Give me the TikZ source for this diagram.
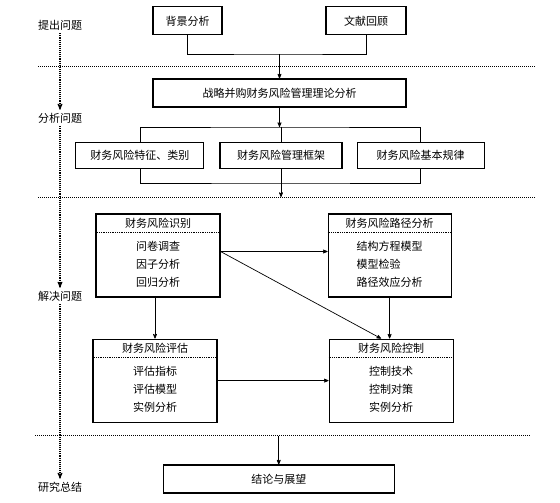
\documentclass[tikz,border=0pt]{standalone}
\usepackage{fontspec}
\newfontfamily\cjk{Noto Sans CJK SC}
\usetikzlibrary{shapes,arrows,positioning}

\begin{document}
\begin{tikzpicture}[>=stealth', x=1pt, y=1pt, font=\cjk\fontsize{11}{18}\selectfont] % Styles
\tikzstyle{box}=[draw, line width=1.1pt, align=center, minimum height=28pt, inner sep=2pt]
\tikzstyle{group}=[draw, line width=1.1pt, minimum width=124pt, minimum height=83pt]
\tikzstyle{head}=[inner sep=0pt]
\tikzstyle{items}=[align=left, inner sep=0pt]
\tikzstyle{stage}=[inner sep=3pt]
\tikzstyle{link}=[line width=0.7pt]
\tikzstyle{divider}=[densely dotted, line width=1pt]
\tikzstyle{flow}=[->, densely dotted, line width=1.1pt]
\useasboundingbox (0,0) rectangle (560,503); % Nodes
\node[box, minimum width=253pt] (theory) at (279.5,410) {战略并购财务风险管理理论分析};
\node[box, minimum width=69pt, above=43pt of theory.north west, anchor=south west] (bg) {背景分析};
\node[box, minimum width=80pt, above=43pt of theory.north east, anchor=south east] (lit) {文献回顾};
\node[box, minimum width=122pt, minimum height=26pt, below=34pt of theory, xshift=1.5pt] (frame) {财务风险管理框架};
\node[box, minimum width=128pt, minimum height=26pt, left=15pt of frame] (feature) {财务风险特征、类别};
\node[box, minimum width=127pt, minimum height=26pt, right=14pt of frame] (law) {财务风险基本规律};
\node[group] (ident) at (158,247.5) {};
\node[group, minimum width=123pt, right=107pt of ident] (route) {};
\node[group, below=41pt of ident, xshift=-3pt] (assess) {};
\node[group, right=111pt of assess] (ctrl) {};
\node[box, minimum width=231pt] (concl) at (278.75,24) {结论与展望}; % Group contents
\node[head] (identh) at ([yshift=-9.5pt]ident.north) {财务风险识别};
\node[items] (identi) at ([yshift=-51pt]ident.north) {问卷调查\\因子分析\\回归分析};
\node[head] (routeh) at ([yshift=-9.5pt]route.north) {财务风险路径分析};
\node[items] (routei) at ([yshift=-51pt]route.north) {结构方程模型\\模型检验\\路径效应分析};
\node[head] (assessh) at ([yshift=-9.5pt]assess.north) {财务风险评估};
\node[items] (assessi) at ([yshift=-51pt]assess.north) {评估指标\\评估模型\\实例分析};
\node[head] (ctrlh) at ([yshift=-9.5pt]ctrl.north) {财务风险控制};
\node[items] (ctrli) at ([yshift=-51pt]ctrl.north) {控制技术\\控制对策\\实例分析};
\foreach \g in {ident,route,assess,ctrl}
  \draw[densely dotted, line width=0.8pt] ([yshift=-19pt]\g.north west) -- ([yshift=-19pt]\g.north east); % Stages
\node[stage] (ask) at (60,478) {提出问题};
\node[stage] (analyse) at (60,385) {分析问题};
\node[stage] (solve) at (60,207) {解决问题};
\node[stage] (sum) at (60,16) {研究总结};
\draw[flow] (ask) -- (analyse);
\draw[flow] (analyse) -- (solve);
\draw[flow] (solve) -- (sum);
\draw[divider] (38,436) -- (535,436);
\draw[divider] (38,305) -- (535,305);
\draw[divider] (35,67) -- (530,67); % Connections
\coordinate (join) at (theory.north |- 0,449);
\draw[link] (bg.south) |- (join) -| (lit.south);
\draw[link, ->] (join) -- (theory.north);
\coordinate (fork) at (theory.south |- 0,376);
\draw[link, ->] (theory.south) -- (fork);
\draw[link] (feature.north) |- (fork) -| (law.north);
\draw[link] (frame.north |- fork) -- (frame.north);
\coordinate (merge) at (frame.south |- 0,320);
\coordinate (stage2) at (frame.south |- 0,306);
\draw[link] (feature.south) |- (merge) -| (law.south);
\draw[link] (frame.south) -- (merge);
\draw[link, ->] (merge) -- (stage2);
\draw[link, ->] ([yshift=4pt]ident.east) -- ([yshift=4pt]route.west);
\draw[link, ->] ([yshift=4pt]ident.east) -- ([xshift=-10pt]ctrl.north);
\draw[link, ->] (route.south) -- (route.south |- ctrl.north);
\draw[link, ->] (assess.north |- ident.south) -- (assess.north);
\draw[link, ->] (assess.east) -- (ctrl.west);
\coordinate (stage4) at (concl.north |- 0,67);
\draw[link, ->] (stage4) -- (concl.north);
\end{tikzpicture}
\end{document}
